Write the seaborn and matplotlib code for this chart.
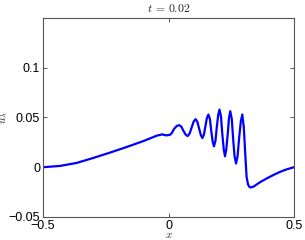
import numpy as np
import pandas as pd
import matplotlib
matplotlib.use("Agg")
import matplotlib.pyplot as plt
import seaborn as sns

# values
x_vals = [-0.5, -0.432, -0.366, -0.3, -0.233, -0.167, -0.1, -0.047, -0.025, -0.01,
          0.005, 0.013, 0.022, 0.033, 0.042, 0.051, 0.059, 0.068, 0.076,
          0.084, 0.092, 0.100, 0.108, 0.115, 0.122, 0.129, 0.135,
          0.141, 0.147, 0.153, 0.159, 0.165, 0.170, 0.176, 0.181,
          0.187, 0.192, 0.198, 0.203, 0.209, 0.214, 0.220, 0.225,
          0.230, 0.236, 0.241, 0.246, 0.252, 0.257, 0.263, 0.269,
          0.275, 0.281, 0.288, 0.294, 0.300, 0.306, 0.311, 0.317,
          0.323, 0.329, 0.340, 0.352, 0.365, 0.391, 0.418, 0.444, 0.47, 0.5]
u_vals = [0.0, 0.0013, 0.0043, 0.0093, 0.0147, 0.0203, 0.0263, 0.0317, 0.0330, 0.0320,
          0.0325, 0.0343, 0.0385, 0.0415, 0.0423, 0.0408, 0.0368, 0.0329, 0.0313,
          0.0338, 0.0398, 0.0458, 0.0483, 0.0455, 0.0388, 0.0321, 0.0293,
          0.0328, 0.0412, 0.0496, 0.0530, 0.0483, 0.0370, 0.0257, 0.0210,
          0.0264, 0.0395, 0.0526, 0.0580, 0.0511, 0.0345, 0.0179, 0.0110,
          0.0177, 0.0337, 0.0497, 0.0563, 0.0486, 0.0300, 0.0114, 0.0037,
          0.0109, 0.0284, 0.0459, 0.0530, 0.0400, 0.0120, -0.0097, -0.0175,
          -0.0200, -0.0203, -0.0193, -0.0172, -0.0150, -0.0113, -0.0078, -0.0047, -0.0022, 0.0]
x_ticks = [-0.5, 0, 0.5]
y_ticks = [-0.05, 0, 0.05, 0.1]
y_tick_labels = ["\u22120.05", "0", "0.05", "0.1"]
x_tick_labels = ["\u22120.5", "0", "0.5"]

df = pd.DataFrame({"x": x_vals, "u": u_vals})

sns.set_style("ticks")
plt.rcParams['font.family'] = ['Liberation Sans', 'DejaVu Sans']
plt.rcParams['mathtext.fontset'] = 'cm'

fig = plt.figure(figsize=(3.05, 2.40), dpi=100)
ax = fig.add_axes([0.141, 0.096, 0.823, 0.829])
sns.lineplot(data=df, x="x", y="u", color=(0, 0, 1), linewidth=1.6, ax=ax)

ax.set_xlim(-0.5, 0.5)
ax.set_ylim(-0.05, 0.15)
ax.set_xticks(x_ticks)
ax.set_xticklabels(x_tick_labels)
ax.set_yticks(y_ticks)
ax.set_yticklabels(y_tick_labels)
ax.tick_params(direction='in', top=True, right=True, length=3, width=0.6,
               labelsize=9, pad=2, colors='#404040', labelcolor='black')
for s in ax.spines.values():
    s.set_linewidth(0.8)
    s.set_color('#555555')
    s.set_visible(True)

ax.set_xlabel(r'$x$', fontsize=8, labelpad=-1)
ax.set_ylabel(r'$u_\lambda$', fontsize=8, labelpad=0)
ax.set_title(r'$t\,=\,0.02$', fontsize=8.5, pad=4)

fig.savefig("out.png", dpi=100)
